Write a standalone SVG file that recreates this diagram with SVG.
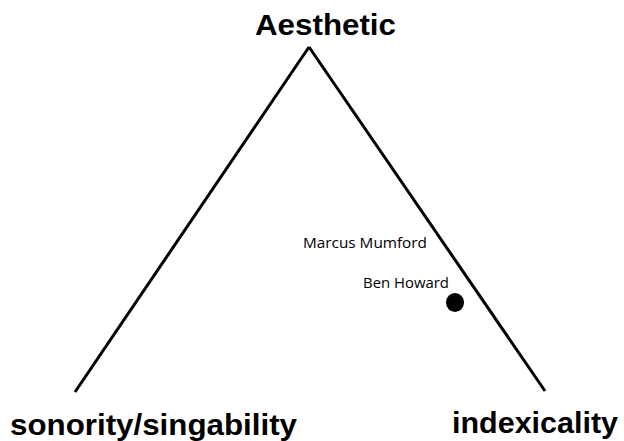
<svg xmlns="http://www.w3.org/2000/svg" width="624" height="441" viewBox="0 0 624 441">
<style>
.lbl{font-family:"Liberation Sans",Arial,sans-serif;font-weight:bold;font-size:30px;fill:#000}
.sm{font-family:"Open Sans","Noto Sans",sans-serif;font-size:14px;fill:#000}
.edge{stroke:#000;stroke-width:3;fill:none;stroke-linecap:butt}
</style>
<rect width="624" height="441" fill="#fff"/>
<g id="connectors">
<line class="edge" x1="75" y1="392" x2="309" y2="47"/>
<line class="edge" x1="309" y1="47" x2="545" y2="391"/>
</g>
<g id="aesthetic"><text class="lbl" x="255" y="35" textLength="141" lengthAdjust="spacingAndGlyphs">Aesthetic</text></g>
<g id="sonority"><text class="lbl" x="10" y="435" textLength="287" lengthAdjust="spacingAndGlyphs">sonority/singability</text></g>
<g id="indexicality"><text class="lbl" x="452" y="433" textLength="166" lengthAdjust="spacingAndGlyphs">indexicality</text></g>
<g id="marcus"><text class="sm" x="303" y="248" textLength="124" lengthAdjust="spacingAndGlyphs">Marcus Mumford</text></g>
<g id="ben"><text class="sm" x="363" y="288" textLength="86" lengthAdjust="spacingAndGlyphs">Ben Howard</text></g>
<g id="dot"><ellipse cx="455" cy="302.5" rx="9" ry="9.5" fill="#000"/></g>
</svg>
